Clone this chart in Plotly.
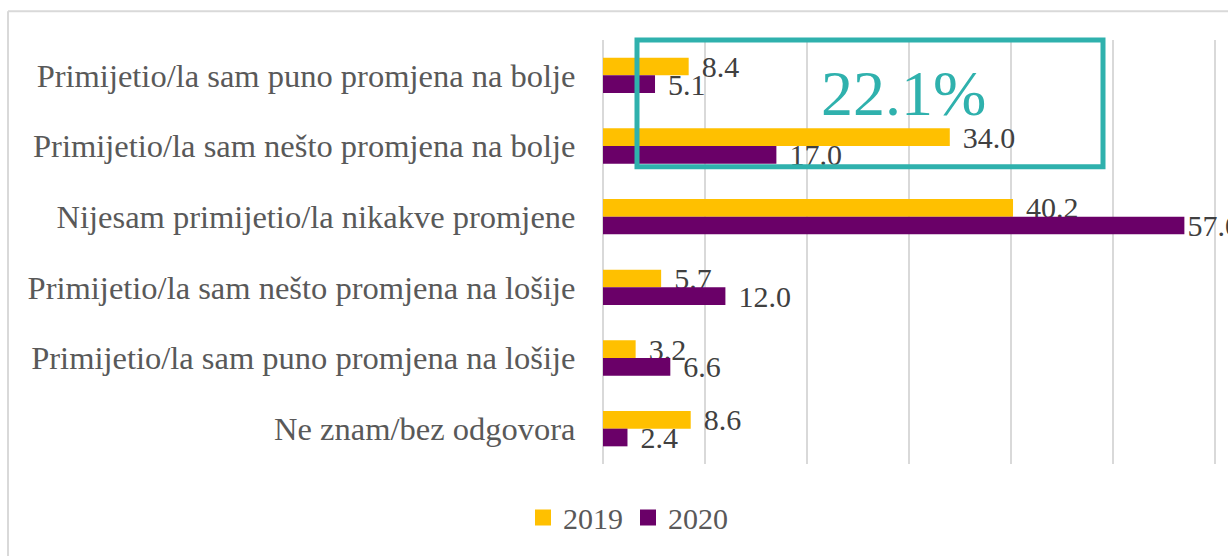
import plotly.graph_objects as go

categories = [
    "Primijetio/la sam puno promjena na bolje",
    "Primijetio/la sam nešto promjena na bolje",
    "Nijesam primijetio/la nikakve promjene",
    "Primijetio/la sam nešto promjena na lošije",
    "Primijetio/la sam puno promjena na lošije",
    "Ne znam/bez odgovora",
]
values_2019 = [8.4, 34.0, 40.2, 5.7, 3.2, 8.6]
values_2020 = [5.1, 17.0, 57.0, 12.0, 6.6, 2.4]
series_names = ["2019", "2020"]
highlight_text = "22.1%"

FONT = "Liberation Serif"
YELLOW = "#FFC000"
PURPLE = "#6A0068"
TEAL = "#2FB1AD"
GRID = "#D9D9D9"
AXIS_MAX = 60
AXIS_END = 60.1  # a hair past the last gridline so it is drawn

fig = go.Figure()
for name, vals, col in [(series_names[0], values_2019, YELLOW), (series_names[1], values_2020, PURPLE)]:
    # labels near the right edge hug the bar end (as Excel does), others get a small gap
    templates = ["%{x:.1f}" if v > AXIS_MAX * 0.9 else "\u2004%{x:.1f}" for v in vals]
    fig.add_trace(go.Bar(
        y=categories, x=vals, name=name, orientation="h",
        marker=dict(color=col, line=dict(width=0)),
        texttemplate=templates, textposition="outside",
        textfont=dict(family=FONT, size=30, color="#404040"),
        constraintext="none", cliponaxis=False, showlegend=False,
    ))
    # legend entry with a larger square symbol
    fig.add_trace(go.Scatter(
        x=[None], y=[None], mode="markers", name=name,
        marker=dict(symbol="square", size=16, color=col),
        hoverinfo="skip",
    ))

L, R, T, B = 603, 12, 40, 88
W, H = 1228, 556
pw, ph = W - L - R, H - T - B

def px(xp):
    return (xp - L) / pw

def py(yp):
    return 1 - (yp - T) / ph

fig.update_layout(
    width=W, height=H,
    margin=dict(l=L, r=R, t=T, b=B, pad=0),
    paper_bgcolor="white", plot_bgcolor="white",
    barmode="group", bargap=0.5, bargroupgap=0,
    font=dict(family=FONT, color="#595959"),
    xaxis=dict(range=[0, AXIS_END], tick0=0, dtick=10, showticklabels=False, showgrid=True,
               gridcolor=GRID, gridwidth=2, zeroline=True, zerolinecolor=GRID,
               zerolinewidth=2, showline=False, fixedrange=True),
    yaxis=dict(autorange="reversed", showgrid=False, showline=False,
               ticks="outside", ticklen=20, tickcolor="rgba(0,0,0,0)",
               tickfont=dict(family=FONT, size=32.5, color="#595959"), fixedrange=True),
    legend=dict(orientation="h", x=px(628), y=py(522), xanchor="center", yanchor="middle",
                font=dict(family=FONT, size=30, color="#595959"), itemwidth=30,
                traceorder="normal"),
    showlegend=True,
    shapes=[
        dict(type="line", xref="paper", yref="paper", x0=px(8), x1=px(8), y0=py(11), y1=py(600),
             line=dict(color=GRID, width=2)),
        dict(type="line", xref="paper", yref="paper", x0=px(8), x1=px(1240), y0=py(11), y1=py(11),
             line=dict(color=GRID, width=2)),
        dict(type="rect", xref="paper", yref="paper", x0=px(637), x1=px(1103), y0=py(168), y1=py(40),
             line=dict(color=TEAL, width=5)),
    ],
    annotations=[
        dict(text=highlight_text, xref="paper", yref="paper", x=px(903), y=py(94),
             xanchor="center", yanchor="middle", showarrow=False,
             font=dict(family=FONT, size=64, color=TEAL)),
    ],
)

fig.write_html("out.html", config={"displayModeBar": False},
               post_script="document.body.style.margin='0';document.body.style.overflow='hidden';")
